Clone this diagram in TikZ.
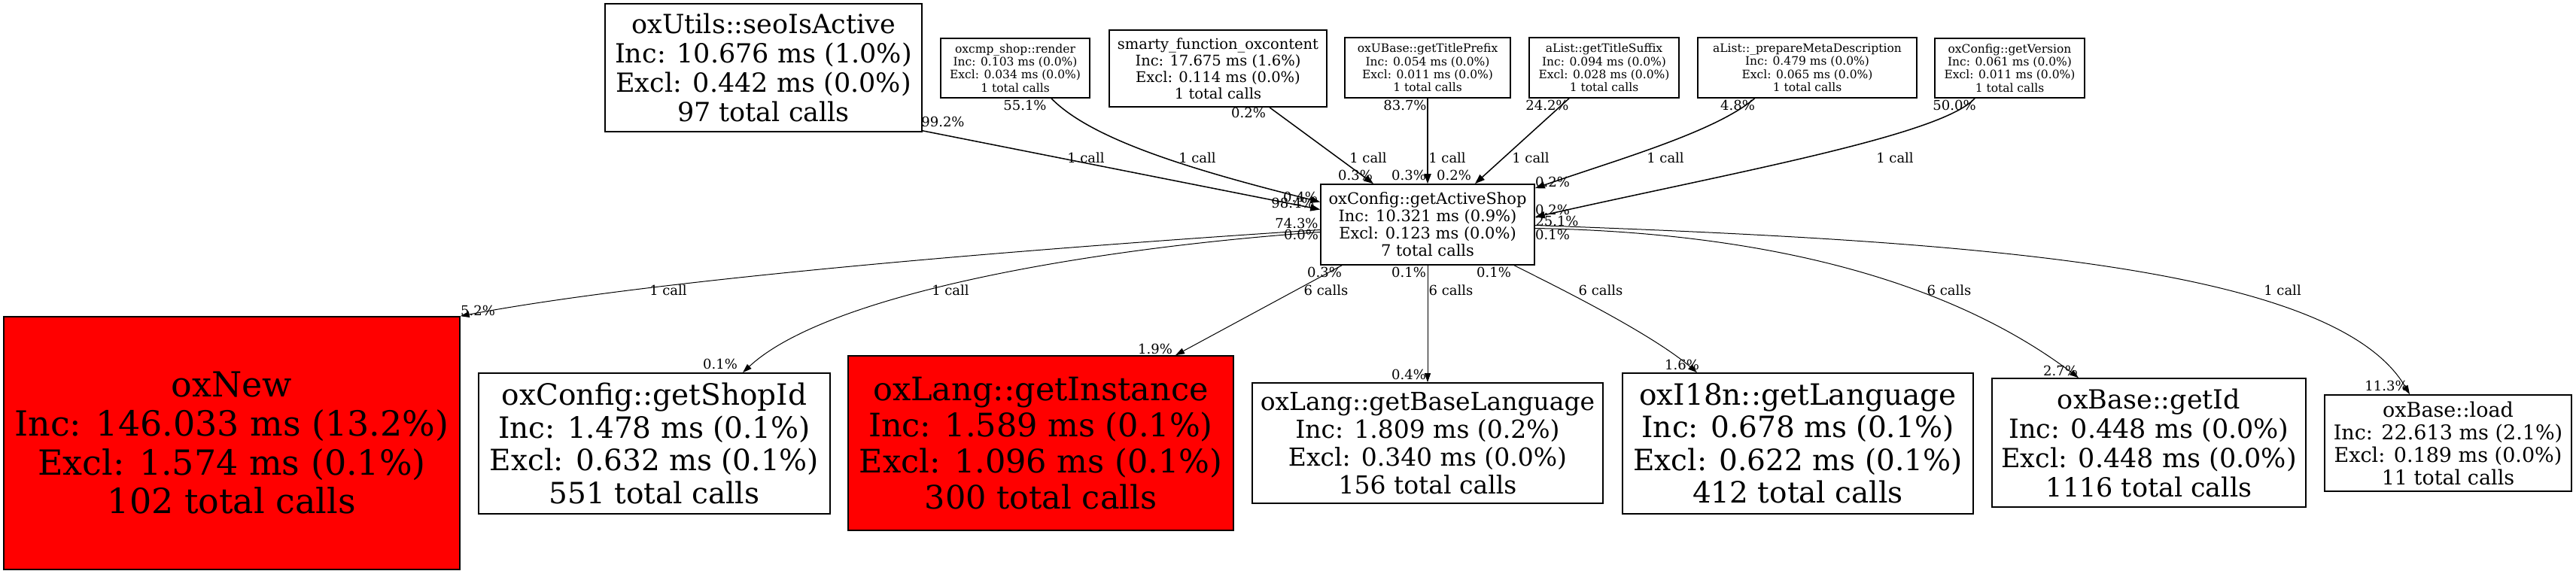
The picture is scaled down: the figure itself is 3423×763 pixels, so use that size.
\documentclass[tikz,border=0pt]{standalone}
\usepackage{fontspec}
\setmainfont{DejaVu Serif}
\usetikzlibrary{arrows.meta,calc}
\tikzset{
  fn/.style={draw, line width=0.8pt, rectangle, inner sep=0pt, align=center, fill=white},
  hot/.style={fn, fill=red},
  lbl/.style={font=\fontsize{9}{10}\selectfont, inner sep=0pt},
  callin/.style={line width=0.75pt, -{Triangle[length=6.5pt,width=4.6pt]}},
  callout/.style={line width=0.5pt, -{Triangle[length=6pt,width=4pt]}},
}
\begin{document}
\begin{tikzpicture}[x=0.5pt,y=-0.5pt]
\useasboundingbox (0,0) rectangle (3423,763);
% callers
\node[fn, minimum width=210.5pt, minimum height=85pt, font=\fontsize{17.5}{19.5}\selectfont] (U) at (1014.5,90)
  {oxUtils::seoIsActive\\Inc: 10.676 ms (1.0\%)\\Excl: 0.442 ms (0.0\%)\\97 total calls};
\node[fn, minimum width=99pt, minimum height=39.5pt, font=\fontsize{7.75}{8.65}\selectfont] (R) at (1349,90.5)
  {oxcmp\_shop::render\\Inc: 0.103 ms (0.0\%)\\Excl: 0.034 ms (0.0\%)\\1 total calls};
\node[fn, minimum width=144.5pt, minimum height=51pt, font=\fontsize{9.75}{11}\selectfont] (S) at (1618.5,91)
  {smarty\_function\_oxcontent\\Inc: 17.675 ms (1.6\%)\\Excl: 0.114 ms (0.0\%)\\1 total calls};
\node[fn, minimum width=110pt, minimum height=40pt, font=\fontsize{7.75}{8.65}\selectfont] (P) at (1897,90)
  {oxUBase::getTitlePrefix\\Inc: 0.054 ms (0.0\%)\\Excl: 0.011 ms (0.0\%)\\1 total calls};
\node[fn, minimum width=99.5pt, minimum height=40pt, font=\fontsize{7.75}{8.65}\selectfont] (T) at (2131.5,90)
  {aList::getTitleSuffix\\Inc: 0.094 ms (0.0\%)\\Excl: 0.028 ms (0.0\%)\\1 total calls};
\node[fn, minimum width=145.5pt, minimum height=40pt, font=\fontsize{7.75}{8.65}\selectfont] (M) at (2401.5,90)
  {aList::\_prepareMetaDescription\\Inc: 0.479 ms (0.0\%)\\Excl: 0.065 ms (0.0\%)\\1 total calls};
\node[fn, minimum width=99.5pt, minimum height=39.5pt, font=\fontsize{7.75}{8.65}\selectfont] (V) at (2670.5,90.5)
  {oxConfig::getVersion\\Inc: 0.061 ms (0.0\%)\\Excl: 0.011 ms (0.0\%)\\1 total calls};
% focus
\node[fn, minimum width=142pt, minimum height=53.5pt, font=\fontsize{10.5}{11.5}\selectfont] (A) at (1897,298.5)
  {oxConfig::getActiveShop\\Inc: 10.321 ms (0.9\%)\\Excl: 0.123 ms (0.0\%)\\7 total calls};
% callees
\node[hot, minimum width=303pt, minimum height=168pt, font=\fontsize{23}{25.85}\selectfont] (N) at (308,589)
  {oxNew\\Inc: 146.033 ms (13.2\%)\\Excl: 1.574 ms (0.1\%)\\102 total calls};
\node[fn, minimum width=233.5pt, minimum height=93.5pt, font=\fontsize{19.5}{21.75}\selectfont] (I) at (869.5,589.5)
  {oxConfig::getShopId\\Inc: 1.478 ms (0.1\%)\\Excl: 0.632 ms (0.1\%)\\551 total calls};
\node[hot, minimum width=256pt, minimum height=116pt, font=\fontsize{21.5}{24}\selectfont] (L) at (1383,589)
  {oxLang::getInstance\\Inc: 1.589 ms (0.1\%)\\Excl: 1.096 ms (0.1\%)\\300 total calls};
\node[fn, minimum width=233pt, minimum height=80pt, font=\fontsize{16.5}{18.5}\selectfont] (B) at (1897,589)
  {oxLang::getBaseLanguage\\Inc: 1.809 ms (0.2\%)\\Excl: 0.340 ms (0.0\%)\\156 total calls};
\node[fn, minimum width=233pt, minimum height=93.5pt, font=\fontsize{19.5}{21.75}\selectfont] (G) at (2389,589.5)
  {oxI18n::getLanguage\\Inc: 0.678 ms (0.1\%)\\Excl: 0.622 ms (0.1\%)\\412 total calls};
\node[fn, minimum width=208.5pt, minimum height=85.5pt, font=\fontsize{17.5}{19.5}\selectfont] (D) at (2855.5,588.5)
  {oxBase::getId\\Inc: 0.448 ms (0.0\%)\\Excl: 0.448 ms (0.0\%)\\1116 total calls};
\node[fn, minimum width=164pt, minimum height=64pt, font=\fontsize{13.5}{15}\selectfont] (O) at (3253,589)
  {oxBase::load\\Inc: 22.613 ms (2.1\%)\\Excl: 0.189 ms (0.0\%)\\11 total calls};
% incoming edges
\draw[callin] ($(U.south east)+(0,-2)$) -- ($(A.west)+(0,-20)$);
\draw[callin] ($(R.south)+(48,0)$) .. controls (1450,185) and (1580,225) .. ($(A.west)+(0,-30)$);
\draw[callin] ($(S.south)+(68.5,0)$) -- ($(A.north)+(-72,0)$);
\draw[callin] (P.south) -- (A.north);
\draw[callin] ($(T.south)+(-46.5,0)$) -- ($(A.north)+(63,0)$);
\draw[callin] ($(M.south)+(-70,0)$) .. controls (2280,175) and (2150,212) .. ($(A.north east)+(0,6)$);
\draw[callin] ($(V.south)+(-46.5,0)$) .. controls (2580,180) and (2300,230) .. ($(A.east)+(0,-10)$);
% outgoing edges
\draw[callout] ($(A.west)+(0,7)$) .. controls (1300,335) and (850,375) .. (N.north east);
\draw[callout] ($(A.west)+(0,10)$) .. controls (1450,330) and (1100,390) .. ($(I.north)+(117.5,0)$);
\draw[callout] ($(A.south)+(-114,0)$) -- ($(L.north)+(179,0)$);
\draw[callout] (A.south) -- (B.north);
\draw[callout] ($(A.south)+(115,0)$) .. controls (2050,372) and (2190,440) .. ($(G.north)+(-134,0)$);
\draw[callout] ($(A.east)+(0,5)$) .. controls (2400,310) and (2620,395) .. ($(D.north)+(-93.5,0)$);
\draw[callout] ($(A.east)+(0,1)$) .. controls (2600,320) and (3100,350) .. ($(O.north)+(-51,0)$);
% labels on incoming edges
\node[lbl] (lu) at (1443,210) {1 call};
\node[lbl] (lut) at (1253,162) {99.2\%};
\node[lbl] (luh) at (1718,270) {98.4\%};
\node[lbl] (lr) at (1591,210) {1 call};
\node[lbl] (lrt) at (1362,140) {55.1\%};
\node[lbl] (lrh) at (1728,262) {0.4\%};
\node[lbl] (ls) at (1818,210) {1 call};
\node[lbl] (lst) at (1659,150) {0.2\%};
\node[lbl] (lsh) at (1801,233) {0.3\%};
\node[lbl] (lp) at (1923,210) {1 call};
\node[lbl] (lpt) at (1867,140) {83.7\%};
\node[lbl] (lph) at (1872,233) {0.3\%};
\node[lbl] (lt) at (2034,210) {1 call};
\node[lbl] (ltt) at (2056,140) {24.2\%};
\node[lbl] (lth) at (1932,233) {0.2\%};
\node[lbl] (lm) at (2213,210) {1 call};
\node[lbl] (lmt) at (2309,140) {4.8\%};
\node[lbl] (lmh) at (2063,242) {0.2\%};
\node[lbl] (lv) at (2518,210) {1 call};
\node[lbl] (lvt) at (2597,140) {50.0\%};
\node[lbl] (lvh) at (2063,279) {0.2\%};
% labels on outgoing edges
\node[lbl] (ln) at (888,386) {1 call};
\node[lbl] (lnt) at (1723,297) {74.3\%};
\node[lbl] (lnh) at (635,413) {5.2\%};
\node[lbl] (li) at (1263,386) {1 call};
\node[lbl] (lit) at (1729,312) {0.0\%};
\node[lbl] (lih) at (957,484) {0.1\%};
\node[lbl] (ll) at (1762,386) {6 calls};
\node[lbl] (llt) at (1760,362) {0.3\%};
\node[lbl] (llh) at (1535,464) {1.9\%};
\node[lbl] (lb) at (1928,386) {6 calls};
\node[lbl] (lbt) at (1872,362) {0.1\%};
\node[lbl] (lbh) at (1872,498) {0.4\%};
\node[lbl] (lg) at (2127,386) {6 calls};
\node[lbl] (lgt) at (1985,362) {0.1\%};
\node[lbl] (lgh) at (2235,485) {1.6\%};
\node[lbl] (ld) at (2590,386) {6 calls};
\node[lbl] (ldt) at (2063,312) {0.1\%};
\node[lbl] (ldh) at (2738,493) {2.7\%};
\node[lbl] (lo) at (3033,386) {1 call};
\node[lbl] (lot) at (2069,294) {25.1\%};
\node[lbl] (loh) at (3171,513) {11.3\%};
\end{tikzpicture}
\end{document}
